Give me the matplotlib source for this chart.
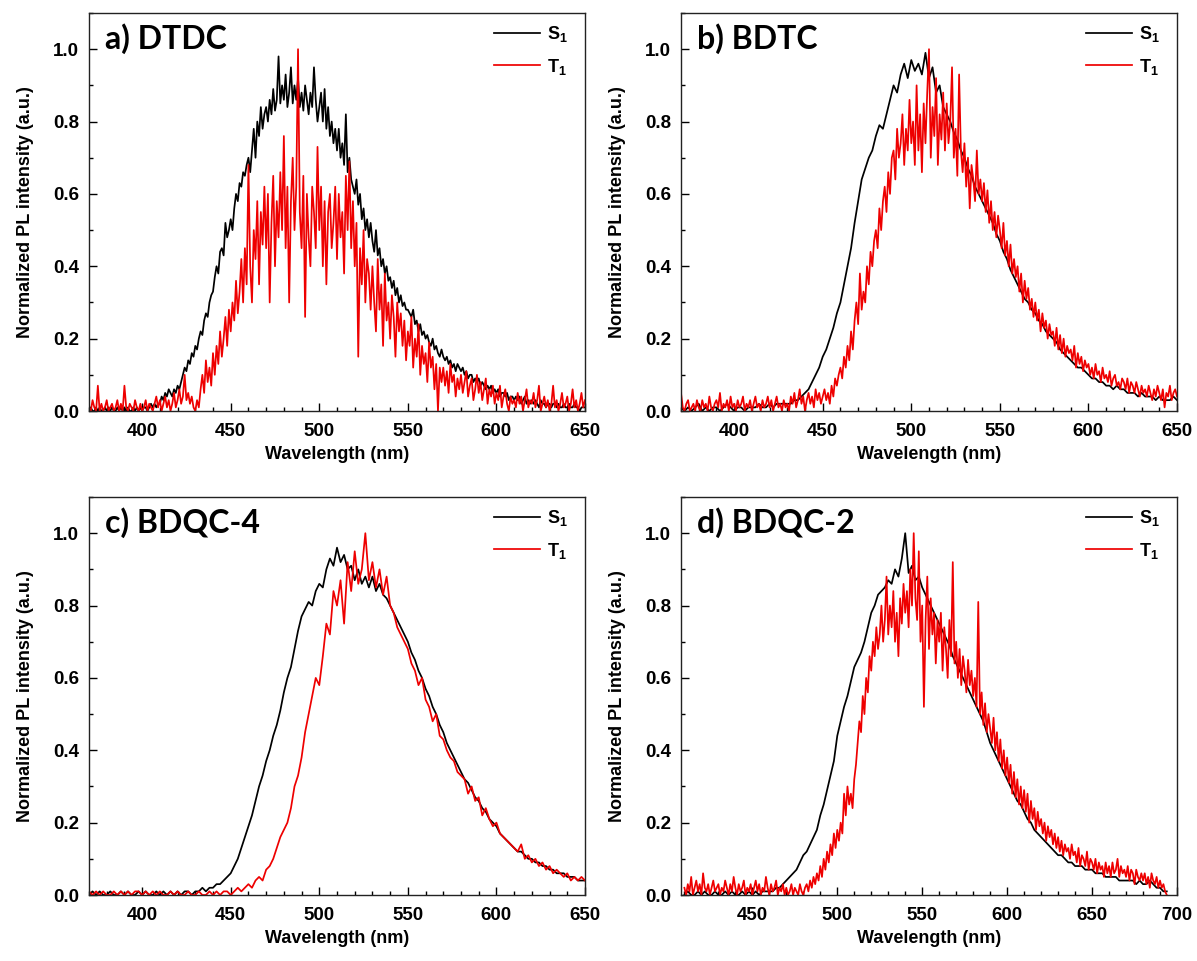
import numpy as np
import matplotlib
matplotlib.use("Agg")
import matplotlib.pyplot as plt
from matplotlib.ticker import MultipleLocator

plt.rcParams['font.family'] = ['Liberation Sans', 'DejaVu Sans']
plt.rcParams['font.weight'] = 'bold'
plt.rcParams['mathtext.fontset'] = 'custom'
plt.rcParams['mathtext.rm'] = 'Liberation Sans:bold'
plt.rcParams['mathtext.bf'] = 'Liberation Sans:bold'
plt.rcParams['mathtext.it'] = 'Liberation Sans:bold'

# ---------------- data ----------------
wl_1nm = np.arange(370, 651, 1)
wl_2nm = np.arange(370, 651, 2)
wl_d_1nm = np.arange(410, 695, 1)
wl_d_2nm = np.arange(410, 695, 2)

# a) DTDC  (1 nm steps)
a_s1 = [0.00,0.01,0.00,0.00,0.01,0.00,0.01,0.00,0.00,0.01,
        0.00,0.01,0.00,0.01,0.00,0.00,0.01,0.00,0.01,0.00,
        0.01,0.00,0.01,0.00,0.00,0.01,0.00,0.01,0.00,0.01,
        0.00,0.01,0.01,0.00,0.01,0.02,0.01,0.02,0.01,0.02,
        0.02,0.04,0.03,0.05,0.04,0.06,0.05,0.04,0.06,0.05,
        0.07,0.06,0.08,0.10,0.12,0.11,0.14,0.13,0.16,0.15,
        0.18,0.17,0.20,0.22,0.21,0.25,0.27,0.26,0.30,0.32,
        0.33,0.37,0.40,0.38,0.44,0.45,0.43,0.52,0.48,0.50,
        0.53,0.50,0.56,0.60,0.58,0.63,0.62,0.66,0.65,0.68,
        0.70,0.66,0.72,0.78,0.70,0.80,0.76,0.84,0.78,0.82,
        0.84,0.80,0.86,0.82,0.89,0.83,0.86,0.98,0.85,0.90,
        0.86,0.93,0.84,0.88,0.95,0.85,0.90,0.86,0.92,0.84,
        0.88,0.83,0.90,0.86,0.82,0.88,0.84,0.95,0.86,0.80,
        0.84,0.88,0.80,0.89,0.78,0.84,0.76,0.80,0.74,0.78,
        0.72,0.78,0.70,0.74,0.68,0.82,0.66,0.70,0.64,0.62,
        0.60,0.64,0.57,0.60,0.53,0.56,0.50,0.53,0.48,0.52,
        0.47,0.44,0.50,0.43,0.45,0.40,0.42,0.38,0.40,0.36,
        0.37,0.34,0.36,0.32,0.34,0.30,0.32,0.29,0.30,0.28,
        0.28,0.27,0.26,0.28,0.24,0.25,0.22,0.24,0.21,0.22,
        0.20,0.21,0.19,0.18,0.20,0.17,0.18,0.16,0.15,0.17,
        0.15,0.14,0.15,0.13,0.14,0.12,0.13,0.11,0.13,0.12,
        0.11,0.12,0.10,0.11,0.09,0.10,0.10,0.08,0.09,0.08,
        0.09,0.07,0.08,0.07,0.06,0.07,0.06,0.07,0.05,0.06,
        0.05,0.06,0.04,0.05,0.05,0.04,0.05,0.03,0.04,0.04,
        0.03,0.04,0.03,0.04,0.02,0.03,0.04,0.02,0.03,0.02,
        0.03,0.02,0.03,0.02,0.01,0.03,0.02,0.02,0.01,0.02,
        0.02,0.01,0.02,0.02,0.01,0.02,0.01,0.01,0.02,0.01,
        0.01,0.02,0.01,0.01,0.02,0.01,0.01,0.00,0.01,0.01,
        0.01]
a_t1 = [0.01,0.00,0.03,0.01,0.00,0.07,0.00,0.02,0.00,0.01,
        0.03,0.00,0.01,0.02,0.00,0.01,0.03,0.00,0.02,0.00,
        0.07,0.01,0.00,0.02,0.01,0.00,0.03,0.01,0.00,0.02,
        0.00,0.01,0.03,0.00,0.02,0.01,0.00,0.02,0.04,0.01,
        0.03,0.00,0.02,0.04,0.01,0.03,0.00,0.02,0.05,0.01,
        0.03,0.06,0.02,0.04,0.10,0.03,0.05,0.02,0.04,0.01,
        0.00,0.03,0.01,0.06,0.10,0.05,0.14,0.08,0.12,0.07,
        0.16,0.10,0.18,0.13,0.22,0.15,0.20,0.26,0.18,0.28,
        0.22,0.30,0.25,0.36,0.27,0.33,0.42,0.30,0.45,0.35,
        0.68,0.40,0.30,0.50,0.42,0.58,0.35,0.55,0.46,0.62,
        0.45,0.60,0.30,0.52,0.65,0.40,0.58,0.48,0.66,0.50,
        0.76,0.45,0.62,0.30,0.58,0.70,0.50,0.62,1.00,0.55,
        0.45,0.65,0.26,0.60,0.48,0.40,0.62,0.55,0.45,0.73,
        0.50,0.62,0.40,0.58,0.35,0.55,0.60,0.45,0.52,0.62,
        0.42,0.60,0.48,0.55,0.38,0.65,0.50,0.69,0.45,0.58,
        0.40,0.52,0.15,0.45,0.35,0.50,0.30,0.42,0.38,0.28,
        0.40,0.30,0.22,0.42,0.28,0.35,0.18,0.38,0.25,0.30,
        0.20,0.32,0.26,0.15,0.30,0.22,0.27,0.18,0.25,0.14,
        0.22,0.18,0.26,0.12,0.20,0.15,0.24,0.10,0.18,0.13,
        0.16,0.08,0.19,0.12,0.15,0.06,0.13,0.00,0.12,0.08,
        0.12,0.07,0.11,0.05,0.13,0.08,0.10,0.04,0.09,0.06,
        0.10,0.05,0.08,0.11,0.04,0.07,0.09,0.03,0.06,0.10,
        0.05,0.08,0.03,0.06,0.09,0.02,0.06,0.04,0.07,0.02,
        0.05,0.03,0.07,0.01,0.04,0.06,0.02,0.00,0.04,0.02,
        0.03,0.01,0.05,0.02,0.04,0.00,0.03,0.06,0.01,0.03,
        0.02,0.05,0.01,0.03,0.07,0.00,0.02,0.04,0.01,0.03,
        0.00,0.02,0.07,0.01,0.03,0.00,0.02,0.05,0.01,0.02,
        0.04,0.00,0.02,0.06,0.01,0.03,0.00,0.02,0.05,0.01,
        0.03]

# b) BDTC  (S1: 2 nm steps, T1: 1 nm steps)
b_s1 = [0.01,0.00,0.01,0.00,0.01,0.02,0.00,0.01,0.00,0.01,
        0.01,0.00,0.01,0.02,0.01,0.00,0.01,0.01,0.00,0.01,
        0.01,0.01,0.02,0.01,0.01,0.02,0.01,0.02,0.02,0.02,
        0.02,0.02,0.03,0.03,0.04,0.05,0.06,0.08,0.10,0.12,
        0.15,0.17,0.20,0.23,0.27,0.30,0.35,0.40,0.45,0.52,
        0.58,0.64,0.67,0.70,0.72,0.76,0.79,0.78,0.82,0.86,
        0.90,0.88,0.93,0.96,0.92,0.97,0.94,0.96,0.93,0.99,
        0.92,0.95,0.88,0.90,0.84,0.82,0.80,0.77,0.75,0.72,
        0.70,0.67,0.65,0.62,0.60,0.58,0.56,0.54,0.52,0.49,
        0.47,0.44,0.42,0.39,0.37,0.35,0.33,0.31,0.30,0.28,
        0.27,0.25,0.24,0.22,0.21,0.20,0.19,0.17,0.16,0.15,
        0.14,0.13,0.12,0.12,0.11,0.10,0.09,0.09,0.08,0.08,
        0.07,0.07,0.06,0.07,0.06,0.06,0.05,0.05,0.05,0.04,
        0.05,0.04,0.04,0.04,0.03,0.04,0.03,0.03,0.03,0.04,0.03]
b_t1 = [0.05,0.01,0.00,0.02,0.03,0.00,0.01,0.02,0.00,0.03,
        0.01,0.00,0.03,0.01,0.02,0.00,0.04,0.01,0.00,0.02,
        0.03,0.01,0.05,0.00,0.02,0.01,0.03,0.00,0.04,0.01,
        0.02,0.00,0.03,0.01,0.02,0.04,0.00,0.02,0.01,0.03,
        0.00,0.02,0.04,0.01,0.02,0.00,0.03,0.01,0.02,0.04,
        0.01,0.03,0.00,0.02,0.04,0.01,0.02,0.00,0.03,0.01,
        0.02,0.00,0.04,0.02,0.05,0.01,0.03,0.06,0.02,0.04,
        0.00,0.03,0.05,0.02,0.04,0.01,0.06,0.03,0.05,0.02,
        0.04,0.06,0.03,0.05,0.02,0.07,0.04,0.09,0.07,0.10,
        0.12,0.09,0.15,0.12,0.18,0.14,0.22,0.17,0.25,0.30,
        0.24,0.38,0.28,0.33,0.30,0.40,0.35,0.44,0.40,0.47,
        0.50,0.45,0.56,0.50,0.58,0.62,0.55,0.66,0.60,0.70,
        0.72,0.64,0.78,0.70,0.74,0.82,0.68,0.78,0.72,0.86,
        0.74,0.80,0.68,0.90,0.72,0.82,0.66,0.85,0.74,0.88,
        1.00,0.70,0.84,0.76,0.92,0.68,0.82,0.75,0.88,0.72,
        0.85,0.74,0.80,0.95,0.70,0.78,0.65,0.93,0.72,0.66,
        0.74,0.62,0.70,0.56,0.68,0.64,0.58,0.72,0.60,0.64,
        0.58,0.63,0.55,0.61,0.52,0.58,0.50,0.55,0.48,0.54,
        0.50,0.45,0.52,0.43,0.47,0.40,0.46,0.38,0.42,0.37,
        0.40,0.33,0.38,0.30,0.36,0.31,0.34,0.28,0.31,0.26,
        0.30,0.25,0.28,0.22,0.27,0.23,0.25,0.20,0.24,0.21,
        0.22,0.18,0.23,0.17,0.21,0.16,0.20,0.15,0.18,0.16,
        0.17,0.14,0.18,0.12,0.16,0.13,0.15,0.11,0.14,0.12,
        0.13,0.10,0.12,0.09,0.13,0.10,0.11,0.08,0.12,0.09,
        0.10,0.08,0.11,0.07,0.09,0.10,0.07,0.08,0.06,0.09,
        0.08,0.06,0.09,0.05,0.08,0.07,0.05,0.08,0.06,0.04,
        0.07,0.05,0.06,0.04,0.07,0.05,0.03,0.06,0.04,0.07,
        0.05,0.03,0.06,0.01,0.05,0.04,0.07,0.03,0.05,0.06,
        0.04]

# c) BDQC-4  (2 nm steps)
c_s1 = [0.00,0.01,0.00,0.01,0.00,0.00,0.01,0.00,0.00,0.01,
        0.00,0.01,0.00,0.00,0.01,0.00,0.01,0.00,0.00,0.01,
        0.00,0.01,0.00,0.01,0.00,0.01,0.00,0.01,0.01,0.00,
        0.01,0.01,0.02,0.01,0.02,0.02,0.03,0.03,0.04,0.05,
        0.06,0.08,0.10,0.13,0.16,0.19,0.22,0.26,0.30,0.33,
        0.37,0.40,0.44,0.47,0.51,0.56,0.60,0.63,0.68,0.73,
        0.77,0.79,0.81,0.80,0.84,0.86,0.85,0.90,0.93,0.91,
        0.96,0.92,0.94,0.90,0.91,0.87,0.90,0.86,0.88,0.85,
        0.88,0.84,0.86,0.83,0.82,0.80,0.78,0.76,0.74,0.72,
        0.70,0.67,0.65,0.62,0.60,0.57,0.55,0.52,0.50,0.47,
        0.45,0.42,0.40,0.38,0.36,0.34,0.32,0.31,0.29,0.27,
        0.26,0.24,0.23,0.21,0.20,0.19,0.17,0.16,0.15,0.14,
        0.13,0.12,0.12,0.11,0.10,0.10,0.09,0.09,0.08,0.08,
        0.07,0.07,0.06,0.06,0.06,0.05,0.05,0.05,0.04,0.04,0.04]
c_t1 = [0.01,0.00,0.01,0.00,0.01,0.00,0.00,0.01,0.00,0.01,
        0.00,0.01,0.00,0.01,0.01,0.00,0.01,0.00,0.01,0.00,
        0.01,0.00,0.00,0.01,0.00,0.01,0.00,0.00,0.01,0.00,
        0.00,0.01,0.00,0.00,0.01,0.00,0.01,0.00,0.01,0.01,
        0.00,0.01,0.02,0.01,0.02,0.03,0.02,0.04,0.05,0.04,
        0.07,0.08,0.10,0.13,0.16,0.18,0.20,0.24,0.30,0.33,
        0.38,0.45,0.50,0.55,0.60,0.58,0.66,0.75,0.72,0.84,
        0.80,0.87,0.75,0.92,0.84,0.95,0.86,0.90,1.00,0.87,
        0.92,0.85,0.90,0.83,0.88,0.80,0.78,0.74,0.72,0.70,
        0.68,0.64,0.62,0.58,0.60,0.54,0.52,0.48,0.50,0.44,
        0.43,0.40,0.38,0.37,0.34,0.33,0.32,0.28,0.30,0.26,
        0.27,0.22,0.24,0.21,0.19,0.20,0.17,0.16,0.15,0.14,
        0.13,0.12,0.14,0.10,0.11,0.09,0.10,0.08,0.09,0.07,
        0.08,0.06,0.07,0.06,0.05,0.06,0.04,0.05,0.04,0.05,0.04]

# d) BDQC-2  (S1: 2 nm steps, T1: 1 nm steps)
d_s1 = [0.00,0.01,0.00,0.00,0.01,0.00,0.01,0.00,0.00,0.01,
        0.00,0.00,0.01,0.00,0.01,0.00,0.00,0.01,0.00,0.01,
        0.00,0.01,0.00,0.01,0.01,0.01,0.01,0.02,0.02,0.03,
        0.04,0.05,0.06,0.07,0.09,0.11,0.12,0.14,0.16,0.18,
        0.22,0.25,0.29,0.33,0.37,0.44,0.48,0.52,0.55,0.59,
        0.63,0.65,0.67,0.70,0.74,0.78,0.80,0.83,0.84,0.85,
        0.87,0.86,0.90,0.88,0.93,1.00,0.89,0.91,0.87,0.88,
        0.85,0.83,0.81,0.79,0.77,0.75,0.73,0.71,0.69,0.66,
        0.64,0.62,0.60,0.58,0.56,0.54,0.52,0.50,0.48,0.45,
        0.42,0.40,0.38,0.36,0.34,0.32,0.30,0.28,0.26,0.25,
        0.23,0.21,0.20,0.18,0.17,0.16,0.15,0.14,0.13,0.12,
        0.11,0.11,0.10,0.09,0.09,0.08,0.08,0.08,0.07,0.07,
        0.07,0.06,0.06,0.06,0.05,0.05,0.05,0.05,0.04,0.04,
        0.04,0.04,0.04,0.03,0.04,0.03,0.03,0.04,0.03,0.02,
        0.02,0.01,0.01]
d_t1 = [0.02,0.00,0.03,0.01,0.05,0.00,0.02,0.04,0.01,0.03,
        0.00,0.06,0.02,0.01,0.03,0.00,0.02,0.04,0.01,0.02,
        0.03,0.00,0.02,0.01,0.04,0.02,0.00,0.03,0.01,0.05,
        0.02,0.00,0.03,0.01,0.02,0.04,0.00,0.02,0.01,0.03,
        0.00,0.02,0.04,0.01,0.03,0.00,0.02,0.01,0.05,0.02,
        0.00,0.03,0.01,0.02,0.04,0.00,0.02,0.01,0.03,0.00,
        0.02,0.00,0.01,0.03,0.00,0.02,0.01,0.00,0.03,0.01,
        0.00,0.02,0.03,0.01,0.04,0.02,0.05,0.03,0.06,0.04,
        0.08,0.05,0.10,0.07,0.12,0.09,0.14,0.11,0.17,0.13,
        0.18,0.15,0.20,0.17,0.28,0.22,0.30,0.25,0.28,0.24,
        0.32,0.36,0.42,0.48,0.45,0.55,0.50,0.60,0.56,0.66,
        0.62,0.70,0.66,0.74,0.68,0.72,0.80,0.70,0.76,0.88,
        0.72,0.80,0.74,0.84,0.70,0.78,0.66,0.82,0.75,0.86,
        0.78,0.84,0.74,0.90,0.80,1.00,0.82,0.76,0.95,0.70,
        0.80,0.52,0.76,0.88,0.68,0.82,0.72,0.78,0.64,0.76,
        0.70,0.78,0.62,0.74,0.68,0.60,0.76,0.66,0.92,0.64,
        0.70,0.60,0.68,0.58,0.66,0.62,0.56,0.65,0.58,0.62,
        0.55,0.60,0.52,0.81,0.50,0.56,0.47,0.53,0.45,0.50,
        0.46,0.42,0.49,0.40,0.45,0.37,0.43,0.35,0.40,0.33,
        0.38,0.31,0.36,0.28,0.34,0.27,0.32,0.25,0.30,0.24,
        0.29,0.23,0.28,0.20,0.26,0.21,0.24,0.18,0.23,0.19,
        0.21,0.17,0.20,0.15,0.19,0.16,0.18,0.14,0.17,0.13,
        0.16,0.12,0.15,0.11,0.14,0.12,0.13,0.10,0.14,0.11,
        0.12,0.09,0.13,0.08,0.11,0.10,0.08,0.12,0.07,0.10,
        0.09,0.07,0.10,0.06,0.09,0.07,0.08,0.05,0.09,0.06,
        0.08,0.05,0.09,0.06,0.07,0.10,0.05,0.08,0.06,0.07,
        0.05,0.08,0.04,0.07,0.06,0.03,0.07,0.05,0.04,0.06,
        0.04,0.06,0.03,0.05,0.02,0.06,0.04,0.03,0.05,0.02,
        0.04,0.02,0.03,0.01,0.00]

titles = ["a) DTDC", "b) BDTC", "c) BDQC-4", "d) BDQC-2"]
series = [
    (wl_1nm, a_s1, wl_1nm, a_t1, (370, 650), [400, 450, 500, 550, 600, 650]),
    (wl_2nm, b_s1, wl_1nm, b_t1, (370, 650), [400, 450, 500, 550, 600, 650]),
    (wl_2nm, c_s1, wl_2nm, c_t1, (370, 650), [400, 450, 500, 550, 600, 650]),
    (wl_d_2nm, d_s1, wl_d_1nm, d_t1, (408, 700), [450, 500, 550, 600, 650, 700]),
]
legend_labels = ['S$_1$', 'T$_1$']

# ---------------- figure ----------------
W, H = 1197, 961
fig = plt.figure(figsize=(W / 100, H / 100), dpi=100)
boxes = [(89, 13, 585, 411), (681, 13, 1177, 411),
         (89, 497, 585, 895), (681, 497, 1177, 895)]

for title, (xs, s1, xt1, t1, xlim, xt), (x0, y0, x1, y1) in zip(titles, series, boxes):
    ax = fig.add_axes([x0 / W, 1 - y1 / H, (x1 - x0) / W, (y1 - y0) / H])
    ax.plot(xs, s1, color='black', lw=1.25, label=legend_labels[0])
    ax.plot(xt1, t1, color='#ee0000', lw=1.25, label=legend_labels[1])
    ax.set_xlim(*xlim)
    ax.set_ylim(0, 1.1)
    ax.set_xticks(xt)
    ax.xaxis.set_minor_locator(MultipleLocator(10))
    ax.set_yticks([0.0, 0.2, 0.4, 0.6, 0.8, 1.0])
    ax.set_yticklabels(['0.0', '0.2', '0.4', '0.6', '0.8', '1.0'])
    ax.yaxis.set_minor_locator(MultipleLocator(0.1))
    ax.tick_params(which='major', direction='in', length=6, width=1,
                   labelsize=13.5)
    ax.tick_params(axis='x', which='major', pad=9)
    ax.tick_params(axis='y', which='major', pad=7)
    ax.tick_params(which='minor', direction='in', length=3, width=1)
    for lab in ax.get_xticklabels() + ax.get_yticklabels():
        lab.set_fontweight('bold')
    for sp in ax.spines.values():
        sp.set_linewidth(1.0)
        sp.set_color('#222222')
    ax.set_xlabel('Wavelength (nm)', fontsize=13, fontweight='bold', labelpad=4)
    ax.set_ylabel('Normalized PL intensity (a.u.)', fontsize=13,
                  fontweight='bold', labelpad=14)
    ax.text(16 / (x1 - x0), 0.975, title, transform=ax.transAxes,
            ha='left', va='top', fontsize=23, fontweight='bold',
            family=['Lato', 'DejaVu Sans'])
    ax.legend(loc='upper right', frameon=False, fontsize=13,
              handlelength=2.55, handletextpad=0.4, labelspacing=0.7,
              borderpad=0, borderaxespad=0,
              bbox_to_anchor=((568 - 89) / 496, (411 - 24) / 398))

fig.savefig('out.png', dpi=100)
